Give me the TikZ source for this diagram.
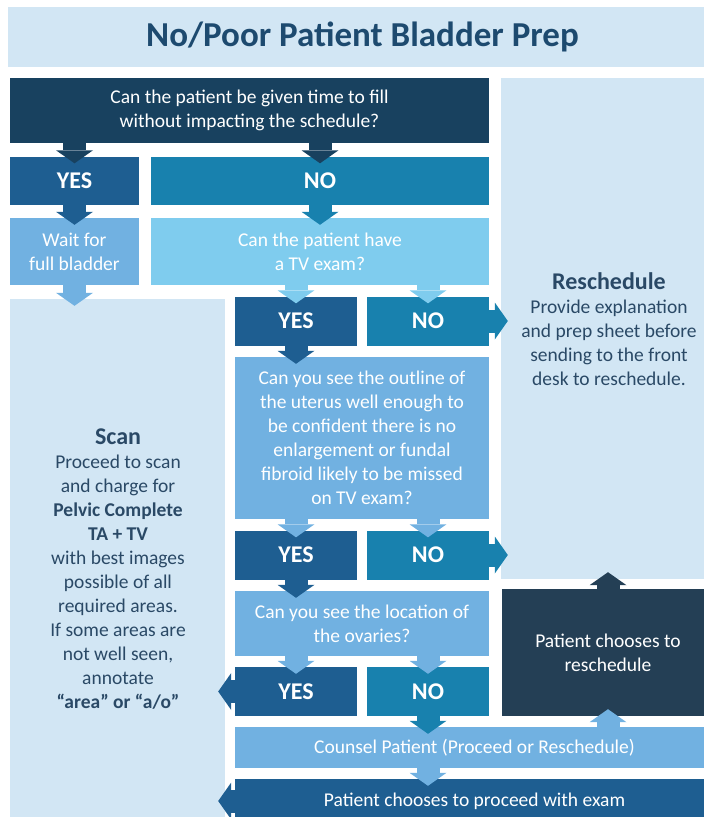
\documentclass[tikz,border=0pt]{standalone}
\usepackage{fontspec}
\setmainfont{Carlito}
\usepackage{xcolor}
\usetikzlibrary{arrows.meta}

\definecolor{panelbg}{HTML}{D2E6F4}
\definecolor{titleblue}{HTML}{1D4A6F}
\definecolor{paneltxt}{HTML}{2A4966}
\definecolor{navyq}{HTML}{18415F}
\definecolor{yesblue}{HTML}{1E5E91}
\definecolor{noblue}{HTML}{1881AE}
\definecolor{lightq}{HTML}{71B1E1}
\definecolor{cyanq}{HTML}{7FCCEE}
\definecolor{slateq}{HTML}{243F55}

\newcommand{\flowbody}{\fontsize{19.5}{24}\selectfont}
\newcommand{\flowhead}{\fontsize{24}{28}\selectfont\bfseries}
\newcommand{\flowtitle}{\fontsize{35}{40}\selectfont\bfseries}

\tikzset{%
    every box/.style={
            rectangle,
            inner sep=0pt,
            align=center,
            text=white,
            font=\flowbody
        },
    answer/.style={
            every box,
            minimum width=122pt,
            minimum height=49pt,
            font=\flowhead
        },
    yes box/.style={answer, fill=yesblue},
    no box/.style={answer, fill=noblue},
    panel/.style={rectangle, inner sep=0pt, fill=panelbg},
    paneltext/.style={align=center, text=paneltxt, font=\flowbody, inner sep=0pt},
    headtext/.style={text=paneltxt, font=\flowhead, inner sep=0pt},
    barrow/.style={
            line width=23pt,
            -{Triangle[width=37pt,length=13pt,line width=0pt]},
            shorten >=-7pt
        },
}

\begin{document}
\begin{tikzpicture}[x=1pt, y=-1pt]

        \path[use as bounding box, clip] (0,0) rectangle (704,817);

        % title band and side panels
        \node [panel, minimum width=709pt, minimum height=60pt, text=titleblue, font=\flowtitle]
            (title) at (362.5,37) {No/Poor Patient Bladder Prep};
        \node [panel, minimum width=216pt, minimum height=501pt] (respanel) at (609,328.5) {};
        \node [panel, minimum width=215pt, minimum height=524pt] (scanpanel) at (117.5,561) {};

        % questions
        \node [every box, fill=navyq, minimum width=479pt, minimum height=65pt] (topq) at (249.5,110.5)
            {Can the patient be given time to fill\\without impacting the schedule?};
        \node [answer, fill=yesblue, minimum width=129pt, minimum height=48pt] (yes1) at (74.5,180.5) {YES};
        \node [answer, fill=noblue, minimum width=338pt, minimum height=48pt] (no1) at (320,180.5) {NO};
        \node [every box, fill=lightq, minimum width=129pt, minimum height=67pt] (waitq) at (74.5,251.5)
            {Wait for\\full bladder};
        \node [every box, fill=cyanq, minimum width=338pt, minimum height=67pt] (tvq) at (320,251.5)
            {Can the patient have\\a TV exam?};

        \foreach \r/\y in {2/321,3/555,4/691.5} {
            \node [yes box] (yes\r) at (296,\y) {YES};
            \node [no box] (no\r) at (428,\y) {NO};
        }

        \node [every box, fill=lightq, minimum width=254pt, minimum height=162pt] (outq) at (362,438)
            {Can you see the outline of\\the uterus well enough to\\be confident there is no\\enlargement or fundal\\fibroid likely to be missed\\on TV exam?};
        \node [every box, fill=lightq, minimum width=254pt, minimum height=65pt] (ovq) at (362,623.5)
            {Can you see the location of\\the ovaries?};
        \node [every box, fill=slateq, minimum width=212pt, minimum height=127pt] (reschoose) at (608,652.5)
            {Patient chooses to\\reschedule};
        \node [every box, fill=lightq, minimum width=479pt, minimum height=41pt] (counsel) at (474.5,747.5)
            {Counsel Patient (Proceed or Reschedule)};
        \node [every box, fill=yesblue, minimum width=479pt, minimum height=44pt] (proceed) at (474.5,801)
            {Patient chooses to proceed with exam};

        % panel texts
        \node [headtext] (reshead) at (609,281) {Reschedule};
        \node [paneltext] (resbody) at (609,343)
            {Provide explanation\\and prep sheet before\\sending to the front\\desk to reschedule.};
        \node [headtext] (scanhead) at (118,437) {Scan};
        \node [paneltext] (scanbody) at (118,582.5)
            {Proceed to scan\\and charge for\\\textbf{Pelvic Complete}\\\textbf{TA + TV}\\with best images\\possible of all\\required areas.\\If some areas are\\not well seen,\\annotate\\\textbf{“area” or “a/o”}};

        % block arrows
        \draw [barrow, navyq] (topq.south -| yes1) -- (yes1.north);
        \draw [barrow, navyq] (topq.south -| no1) -- (no1.north);
        \draw [barrow, yesblue] (yes1.south) -- (waitq.north);
        \draw [barrow, noblue] (no1.south) -- (tvq.north);
        \draw [barrow, lightq] (waitq.south) -- (waitq.south |- scanpanel.north);

        \foreach \s/\t/\c in {tvq/yes2/cyanq, tvq/no2/cyanq, outq/yes3/lightq, outq/no3/lightq, ovq/yes4/lightq, ovq/no4/lightq}
        \draw [barrow, \c] (\s.south -| \t) -- (\t.north);

        \foreach \s/\t in {yes2/outq, yes3/ovq}
        \draw [barrow, yesblue] (\s.south) -- (\s.south |- \t.north);

        \foreach \s in {no2, no3}
        \draw [barrow, noblue] (\s.east) -- (\s.east -| respanel.west);

        \foreach \s in {yes4, proceed}
        \draw [barrow, yesblue] (\s.west) -- (\s.west -| scanpanel.east);

        \draw [barrow, noblue] (no4.south) -- (no4.south |- counsel.north);
        \draw [barrow, lightq] (counsel.south -| no4) -- (proceed.north -| no4);
        \draw [barrow, lightq] (counsel.north -| reschoose) -- (reschoose.south);
        \draw [barrow, slateq] (reschoose.north) -- (reschoose.north |- respanel.south);

    \end{tikzpicture}
\end{document}
